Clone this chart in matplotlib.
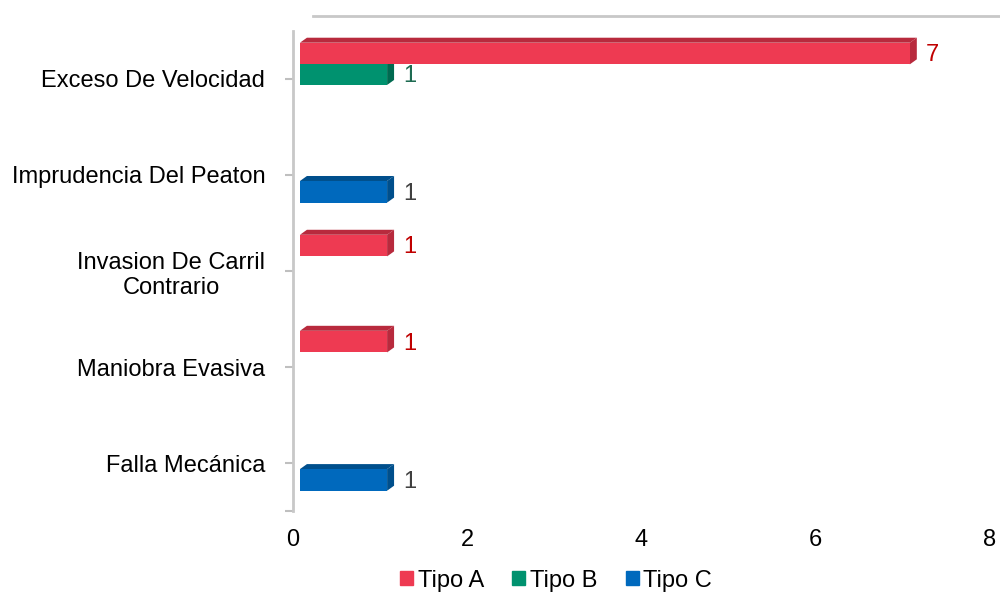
import matplotlib.pyplot as plt
from matplotlib.patches import Polygon
from matplotlib.lines import Line2D

plt.rcParams['font.family'] = ['Liberation Sans', 'DejaVu Sans']

categories = ['Exceso De Velocidad', 'Imprudencia Del Peaton', 'Invasion De Carril\nContrario',
              'Maniobra Evasiva', 'Falla Mecánica']
series = ['Tipo A', 'Tipo B', 'Tipo C']
tipo_a = [7, 0, 1, 1, 0]
tipo_b = [1, 0, 0, 0, 0]
tipo_c = [0, 1, 0, 0, 1]
values = [tipo_a, tipo_b, tipo_c]

front = ['#EE3A52', '#00926F', '#0069BD']
top = ['#B82A3D', '#006A50', '#004F8C']
label_col = ['#C00000', '#1E6B52', '#404040']
offsets = [-0.265, -0.05, 0.175]
h = 0.225
x0 = 0.08     # front face start
dx = 0.08     # depth in x
dy = 0.052    # depth in y (band units)

fig = plt.figure(figsize=(10, 5.95), dpi=100)
ax = fig.add_axes([0.293, 0.141, 0.697, 0.807])

for s in [2, 1, 0]:
    for i, v in enumerate(values[s]):
        if v == 0:
            continue
        yc = i + offsets[s]
        yt, yb = yc - h / 2, yc + h / 2
        x1 = x0 + v
        z = 10 - s
        ax.add_patch(Polygon([(x0, yt), (x0 + dx, yt - dy), (x1 + dx, yt - dy), (x1, yt)],
                             closed=True, facecolor=top[s], edgecolor='none', zorder=z))
        ax.add_patch(Polygon([(x1, yt), (x1 + dx, yt - dy), (x1 + dx, yb - dy), (x1, yb)],
                             closed=True, facecolor=top[s], edgecolor='none', zorder=z))
        ax.add_patch(Polygon([(x0, yt), (x1, yt), (x1, yb), (x0, yb)],
                             closed=True, facecolor=front[s], edgecolor='none', zorder=z))
        ax.text(x1 + dx + 0.1, yc + 0.02, str(v), color=label_col[s], fontsize=17,
                ha='left', va='center', zorder=20)

ax.set_xlim(0, 8)
ax.set_ylim(4.5, -0.5)
ax.set_xticks([0, 2, 4, 6, 8])
ax.tick_params(axis='x', length=0, labelsize=17, pad=13)
ax.set_yticks([0, 1, 2, 3, 4, 4.5])
ax.set_yticklabels(categories + [''], fontsize=17, multialignment='center')
ax.tick_params(axis='y', length=6, color='#BFBFBF', width=1.5, pad=14)

for sp in ['top', 'right', 'bottom']:
    ax.spines[sp].set_visible(False)
ax.spines['left'].set_color('#C8C8C8')
ax.spines['left'].set_linewidth(2)

fig.add_artist(Line2D([0.313, 1.0], [0.973, 0.973], color='#C8C8C8', lw=2,
                      transform=fig.transFigure))

handles = [plt.Rectangle((0, 0), 1, 1, color=c) for c in front]
fig.legend(handles, series, loc='lower center', bbox_to_anchor=(0.556, -0.03), ncol=3,
           frameon=False, fontsize=17, handlelength=0.55, handleheight=0.55,
           handletextpad=0.2, columnspacing=1.2)

fig.savefig('out.png', dpi=100)
